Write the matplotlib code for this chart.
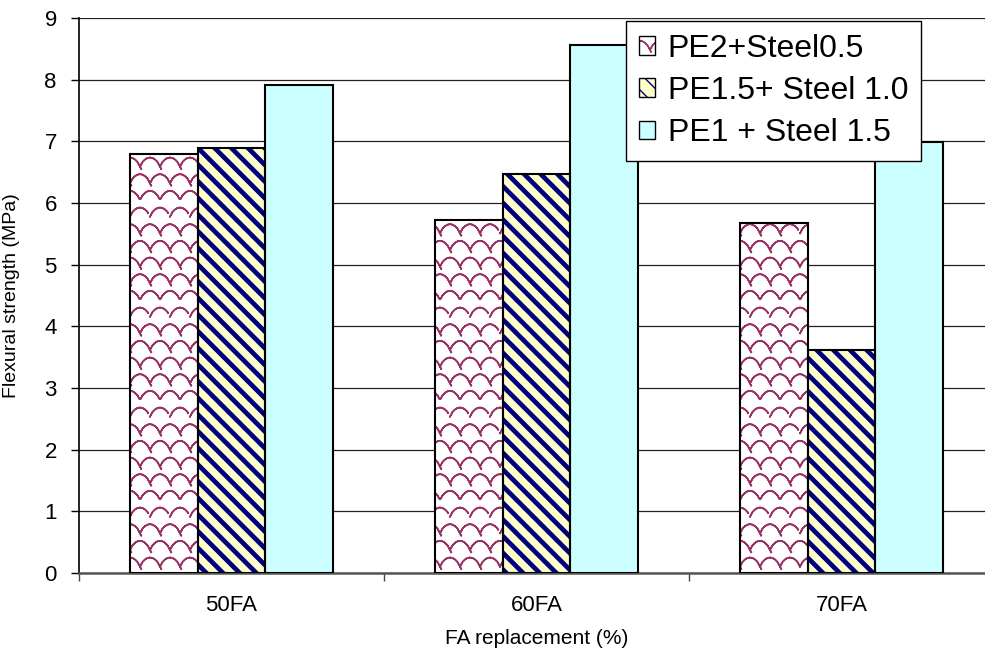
import warnings

import numpy as np
import matplotlib
matplotlib.use('Agg')
import matplotlib.pyplot as plt
import matplotlib.hatch as mhatch
import matplotlib.patches as mpatches
from matplotlib.legend_handler import HandlerTuple
from matplotlib.path import Path

warnings.filterwarnings('ignore')

categories = ['50FA', '60FA', '70FA']
series_names = ['PE2+Steel0.5', 'PE1.5+ Steel 1.0', 'PE1 + Steel 1.5']
pe2_steel05 = [6.80, 5.72, 5.67]
pe15_steel10 = [6.90, 6.47, 3.62]
pe1_steel15 = [7.91, 8.57, 6.99]
y_ticks = [0, 1, 2, 3, 4, 5, 6, 7, 8, 9]


# fish-scale hatch like the Excel pattern fill, selected with 's'.
# each arc goes out and back along itself so Agg's fill adds no area
class ScaleHatch(mhatch.HatchPatternBase):
    def __init__(self, hatch, density):
        self.on = 's' in hatch
        self.ncols = 5
        self.nrows = 6
        self.npts = 9
        per_arc = 2 * self.npts
        self.num_vertices = (self.nrows * (self.ncols + 1) * per_arc) if self.on else 0

    def set_vertices_and_codes(self, vertices, codes):
        t = np.linspace(0, 1, self.npts)
        t = np.concatenate([t, t[::-1]])
        n = len(t)
        w = 1.0 / self.ncols
        h = 1.0 / self.nrows
        k = 0
        for r in range(self.nrows):
            off = (r % 2) * w / 2
            start = -1 if r % 2 else 0
            for c in range(start, start + self.ncols + 1):
                vertices[k:k + n, 0] = (c + t) * w + off
                vertices[k:k + n, 1] = r * h + 0.55 * h * np.sin(np.pi * t) ** 0.7
                codes[k] = Path.MOVETO
                codes[k + 1:k + n] = Path.LINETO
                k += n


mhatch._hatch_types.append(ScaleHatch)

plt.rcParams['font.family'] = ['Liberation Sans', 'DejaVu Sans']

fig = plt.figure(figsize=(9.85, 6.53), dpi=100)
ax = fig.add_axes([79 / 985, 80 / 653, 915 / 985, 555 / 653])

x = np.arange(len(categories))
width = 0.222

styles = [
    dict(face='white', hatch='s', hcolor='#993366', hlw=1.2),
    dict(face='#FFFFCC', hatch='\\\\', hcolor='#000080', hlw=3.4),
    dict(face='#CCFFFF', hatch=None, hcolor='black', hlw=1.0),
]
data = [pe2_steel05, pe15_steel10, pe1_steel15]

handles = []
for i, (vals, st) in enumerate(zip(data, styles)):
    pos = x + (i - 1) * width
    with plt.rc_context({'hatch.linewidth': st['hlw']}):
        bars = ax.bar(pos, vals, width, color=st['face'], edgecolor=st['hcolor'],
                      hatch=st['hatch'], linewidth=0, zorder=2)
        for b in bars:
            if hasattr(b, 'set_hatch_linewidth'):
                b.set_hatch_linewidth(st['hlw'])
        proxy = mpatches.Patch(facecolor=st['face'], edgecolor=st['hcolor'],
                               hatch=st['hatch'], linewidth=0)
        if hasattr(proxy, 'set_hatch_linewidth'):
            proxy.set_hatch_linewidth(st['hlw'])
    ax.bar(pos, vals, width, fill=False, edgecolor='black', linewidth=1.5, zorder=3)
    outline = mpatches.Patch(fill=False, edgecolor='black', linewidth=1.0)
    handles.append((proxy, outline))

ax.set_xlim(-0.5, 2.5)
ax.set_ylim(0, 9)
ax.set_yticks(y_ticks)
ax.yaxis.grid(True, color='#222222', linewidth=0.9, zorder=0)
ax.set_axisbelow(True)

ax.set_xticks([-0.5, 0.5, 1.5, 2.5])
ax.set_xticklabels([])
ax.set_xticks(x, minor=True)
ax.set_xticklabels(categories, minor=True, fontsize=16)
ax.tick_params(axis='x', which='minor', length=0, pad=16)
ax.tick_params(axis='x', which='major', length=6, width=1, color='#444444')
ax.tick_params(axis='y', length=6, width=1, labelsize=16, pad=10)

for s in ['top', 'right']:
    ax.spines[s].set_visible(False)
ax.spines['left'].set_color('black')
ax.spines['left'].set_linewidth(1.2)
ax.spines['bottom'].set_color('#555555')
ax.spines['bottom'].set_linewidth(1.8)

ax.set_ylabel('Flexural strength (MPa)', fontsize=14)
ax.yaxis.set_label_coords(-59 / 915, 0.5)
ax.set_xlabel('FA replacement (%)', fontsize=15, labelpad=9)

leg = ax.legend(handles, series_names, handler_map={tuple: HandlerTuple(ndivide=1)},
                loc='upper left', bbox_to_anchor=(626 / 985, 1 - 21 / 653),
                bbox_transform=fig.transFigure, borderaxespad=0, fontsize=23,
                handlelength=0.5, handleheight=0.5, handletextpad=0.4,
                labelspacing=0.38, borderpad=0.4, fancybox=False, framealpha=1,
                edgecolor='black')
leg.get_frame().set_linewidth(1.0)
leg.set_zorder(5)

fig.savefig('out.png', dpi=100)
